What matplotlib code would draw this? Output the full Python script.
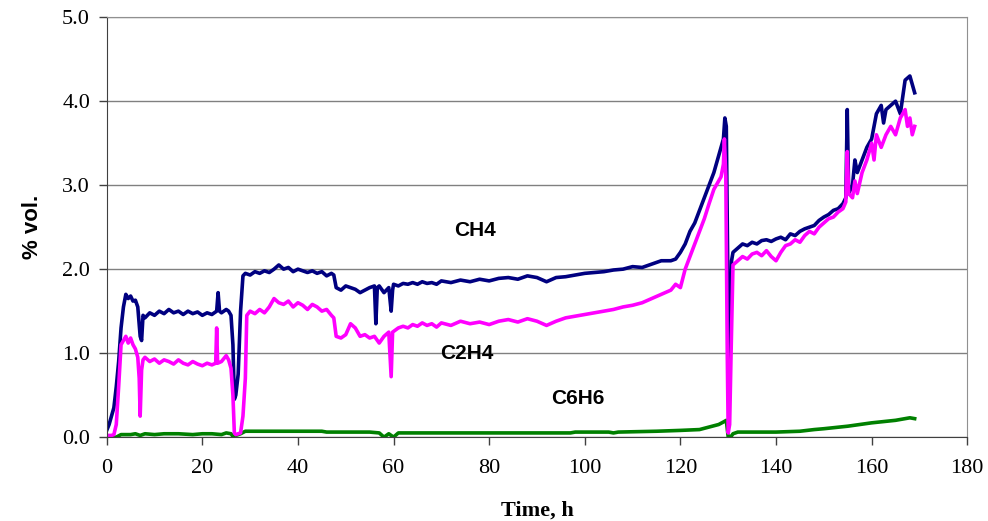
import matplotlib
matplotlib.use("Agg")
import matplotlib.pyplot as plt

# ── Data (time in h, % vol.) ──────────────────────────────────────────────────
t_ch4 = [0, 0.5, 1, 1.5, 2, 2.5, 3, 3.5, 4, 4.5, 5, 5.5, 6, 6.5, 7, 7.3, 7.6, 8, 9, 10,
         11, 12, 13, 14, 15, 16, 17, 18, 19, 20, 21, 22, 23, 23.3, 23.6, 24, 25, 25.5, 26, 26.4,
         26.7, 27, 27.5, 28, 28.5, 29, 30, 31, 32, 33, 34, 35, 36, 37, 38, 39, 40, 41, 42, 43,
         44, 45, 46, 47, 47.5, 48, 49, 50, 51, 52, 53, 54, 55, 56, 56.3, 56.6, 57, 58, 59, 59.5,
         59.8, 60, 61, 62, 63, 64, 65, 66, 67, 68, 69, 70, 72, 74, 76, 78, 80, 82, 84, 86,
         88, 90, 92, 94, 96, 98, 100, 102, 104, 106, 108, 110, 112, 114, 116, 118, 119, 120, 121, 122,
         123, 124, 125, 126, 127, 128, 129, 129.3, 129.6, 129.9, 130.1, 130.4, 130.7, 131, 132, 133, 134, 135,
         136, 137, 138, 139, 140, 141, 142, 143, 144, 145, 146, 147, 148, 149, 150, 151, 152, 153, 154, 154.6,
         154.9, 155.2, 156, 156.5, 157, 158, 159, 160, 160.5, 161, 162, 162.5, 163, 164, 165, 166, 167, 168, 168.5, 169]
ch4 = [0.08, 0.15, 0.25, 0.35, 0.6, 0.9, 1.3, 1.55, 1.7, 1.65, 1.68, 1.62, 1.63, 1.55, 1.2, 1.15, 1.45, 1.42, 1.48, 1.45,
       1.5, 1.47, 1.52, 1.48, 1.5, 1.46, 1.5, 1.47, 1.49, 1.45, 1.48, 1.46, 1.5, 1.72, 1.5, 1.48, 1.52, 1.5, 1.45, 1.1,
       0.45, 0.5, 0.75, 1.5, 1.92, 1.95, 1.93, 1.97, 1.95, 1.98, 1.96, 2.0, 2.05, 2.0, 2.02, 1.97, 2.0, 1.98, 1.96, 1.98,
       1.95, 1.97, 1.92, 1.95, 1.93, 1.78, 1.75, 1.8, 1.78, 1.76, 1.72, 1.75, 1.78, 1.8, 1.35, 1.78, 1.8, 1.72, 1.78, 1.5,
       1.75, 1.82, 1.8, 1.83, 1.82, 1.84, 1.82, 1.85, 1.83, 1.84, 1.82, 1.86, 1.84, 1.87, 1.85, 1.88, 1.86, 1.89, 1.9, 1.88,
       1.92, 1.9, 1.85, 1.9, 1.91, 1.93, 1.95, 1.96, 1.97, 1.99, 2.0, 2.03, 2.02, 2.06, 2.1, 2.1, 2.12, 2.2, 2.3, 2.45,
       2.55, 2.7, 2.85, 3.0, 3.15, 3.35, 3.55, 3.8, 3.7, 2.0, 0.47, 1.0, 2.1, 2.2, 2.25, 2.3, 2.28, 2.32,
       2.3, 2.34, 2.35, 2.33, 2.36, 2.38, 2.35, 2.42, 2.4, 2.45, 2.48, 2.5, 2.52, 2.58, 2.62, 2.65, 2.7, 2.72, 2.78, 2.85,
       3.9, 2.9, 3.0, 3.3, 3.15, 3.3, 3.45, 3.55, 3.7, 3.85, 3.95, 3.74, 3.9, 3.95, 4.0, 3.85, 4.25, 4.3, 4.2, 4.1]

t_c2h4 = [0, 1, 1.5, 2, 2.5, 3, 3.5, 4, 4.5, 5, 5.5, 6, 6.5, 6.8, 7, 7.3, 7.6, 8, 9, 10,
          11, 12, 13, 14, 15, 16, 17, 18, 19, 20, 21, 22, 22.8, 23, 23.2, 24, 25, 25.5, 26, 26.4,
          26.7, 27, 28, 28.5, 29, 29.3, 30, 31, 32, 33, 34, 35, 36, 37, 38, 39, 40, 41, 42, 43,
          44, 45, 46, 47, 47.5, 48, 49, 50, 51, 52, 53, 54, 55, 56, 57, 58, 59, 59.5, 59.8, 60.5,
          61, 62, 63, 64, 65, 66, 67, 68, 69, 70, 72, 74, 76, 78, 80, 82, 84, 86, 88, 90,
          92, 94, 96, 98, 100, 102, 104, 106, 108, 110, 112, 114, 116, 118, 119, 120, 121, 122, 123, 124,
          125, 126, 127, 128, 128.5, 129, 129.2, 129.5, 129.8, 130, 130.3, 130.6, 131, 132, 133, 134, 135, 136, 137, 138,
          139, 140, 141, 142, 143, 144, 145, 146, 147, 148, 149, 150, 151, 152, 153, 154, 154.6, 154.9, 155.2, 156,
          156.5, 157, 158, 159, 160, 160.5, 161, 162, 163, 164, 165, 166, 167, 167.5, 168, 168.5, 169]
c2h4 = [0.02, 0.02, 0.03, 0.15, 0.6, 1.1, 1.15, 1.2, 1.12, 1.18, 1.1, 1.05, 0.95, 0.7, 0.25, 0.8, 0.92, 0.95, 0.9, 0.93,
        0.88, 0.92, 0.9, 0.87, 0.92, 0.88, 0.86, 0.9, 0.87, 0.85, 0.88, 0.86, 0.88, 1.3, 0.88, 0.9, 0.97, 0.92, 0.82, 0.5,
        0.05, 0.03, 0.05, 0.25, 0.7, 1.45, 1.5, 1.47, 1.52, 1.48, 1.55, 1.65, 1.6, 1.58, 1.62, 1.55, 1.6, 1.57, 1.52, 1.58,
        1.55, 1.5, 1.52, 1.45, 1.42, 1.2, 1.18, 1.22, 1.35, 1.3, 1.2, 1.22, 1.18, 1.2, 1.12, 1.2, 1.25, 0.72, 1.25, 1.28,
        1.3, 1.32, 1.3, 1.34, 1.32, 1.36, 1.33, 1.35, 1.31, 1.36, 1.33, 1.38, 1.35, 1.37, 1.34, 1.38, 1.4, 1.37, 1.41, 1.38,
        1.33, 1.38, 1.42, 1.44, 1.46, 1.48, 1.5, 1.52, 1.55, 1.57, 1.6, 1.65, 1.7, 1.75, 1.82, 1.78, 2.0, 2.15, 2.3, 2.45,
        2.6, 2.78, 2.95, 3.05, 3.1, 3.25, 3.55, 3.1, 1.0, 0.05, 0.15, 1.0, 2.05, 2.1, 2.15, 2.12, 2.18, 2.2, 2.16, 2.22,
        2.15, 2.1, 2.2, 2.28, 2.3, 2.35, 2.32, 2.4, 2.45, 2.42, 2.5, 2.55, 2.6, 2.62, 2.68, 2.72, 2.8, 3.4, 2.9, 2.85,
        3.05, 2.9, 3.15, 3.3, 3.5, 3.3, 3.6, 3.45, 3.6, 3.7, 3.6, 3.8, 3.9, 3.7, 3.8, 3.6, 3.7]

t_c6h6 = [0, 2, 3, 5, 6, 7, 8, 10, 12, 15, 18, 20, 22, 24, 25, 26, 26.5, 27, 28, 29,
          35, 40, 45, 46, 50, 55, 57, 58, 59, 60, 61, 70, 80, 90, 97, 98, 105, 106, 107, 115,
          120, 124, 126, 128, 129, 129.6, 130, 130.5, 131, 132, 135, 140, 145, 148, 150, 155, 160, 165, 168, 169]
c6h6 = [0.0, 0.0, 0.03, 0.03, 0.04, 0.02, 0.04, 0.03, 0.04, 0.04, 0.03, 0.04, 0.04, 0.03, 0.05, 0.04, 0.0, 0.02, 0.04, 0.07,
        0.07, 0.07, 0.07, 0.06, 0.06, 0.06, 0.05, 0.0, 0.04, 0.0, 0.05, 0.05, 0.05, 0.05, 0.05, 0.06, 0.06, 0.05, 0.06, 0.07,
        0.08, 0.09, 0.12, 0.15, 0.18, 0.2, 0.0, 0.0, 0.04, 0.06, 0.06, 0.06, 0.07, 0.09, 0.1, 0.13, 0.17, 0.2, 0.23, 0.22]

labels = ["CH4", "C2H4", "C6H6"]
label_pos = [(77, 2.46), (75.3, 1.0), (98.6, 0.46)]
colors = ["#000080", "#FF00FF", "#008000"]

fig = plt.figure(figsize=(9.88, 5.21), dpi=100)
ax = fig.add_axes([0.108, 0.161, 0.871, 0.806])

# green first, then navy, magenta on top
ax.plot(t_c6h6, c6h6, color=colors[2], lw=2.6)
ax.plot(t_ch4, ch4, color=colors[0], lw=2.6)
ax.plot(t_c2h4, c2h4, color=colors[1], lw=2.6)

for txt, (x, y) in zip(labels, label_pos):
    ax.text(x, y, txt, ha="center", va="center", fontsize=15, fontweight="bold",
            family="Liberation Sans")

ax.set_xlim(0, 180)
ax.set_ylim(0, 5)
ax.set_xticks(range(0, 181, 20))
ax.set_yticks([0, 1, 2, 3, 4, 5])
ax.set_yticklabels([f"{v:.1f}" for v in [0, 1, 2, 3, 4, 5]])
ax.yaxis.grid(True, color="#808080", lw=1)
ax.set_axisbelow(True)

for lab in ax.get_xticklabels() + ax.get_yticklabels():
    lab.set_family("Liberation Serif")
    lab.set_fontsize(16)
ax.tick_params(direction="out", length=6, width=1, color="#404040", pad=6)
ax.tick_params(axis="x", pad=10)

for side in ["left", "bottom"]:
    ax.spines[side].set_color("#404040")
for side in ["top", "right"]:
    ax.spines[side].set_color("#909090")

ax.set_ylabel("% vol.", fontsize=16, fontweight="bold", family="Liberation Sans", labelpad=14)
ax.set_xlabel("Time, h", fontsize=16, fontweight="bold", family="Liberation Serif", labelpad=16)

plt.savefig("out.png", dpi=100)
